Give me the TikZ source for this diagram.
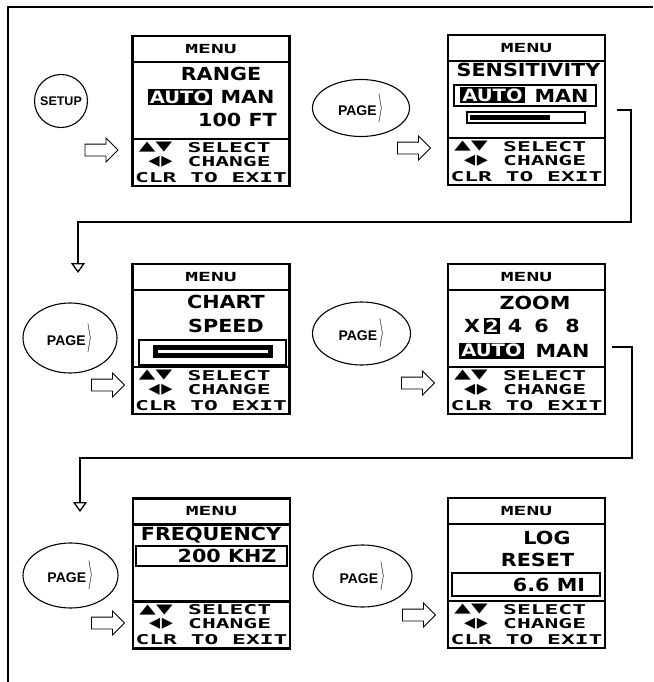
\documentclass[tikz,border=0pt]{standalone}
\usepackage{fontspec}
\usepackage{graphicx}
\setmainfont{Liberation Sans}
\newfontfamily\lcdbig[FakeStretch=1.15]{DejaVu Sans}
\newfontfamily\lcdsmall[FakeStretch=1.7]{DejaVu Sans Mono}
\newfontfamily\lcdsym{DejaVu Sans}
\usepackage{tikz}
\usetikzlibrary{arrows.meta,shapes.geometric,shapes.arrows}

\begin{document}
\begin{tikzpicture}[x=1pt,y=-1pt,
  scr/.style={draw,line width=2.6pt,minimum width=157pt,minimum height=150pt,inner sep=0pt,outer sep=0pt},
  div/.style={line width=2.4pt},
  big/.style={font={\lcdbig\bfseries\fontsize{18pt}{18pt}\selectfont},inner sep=0pt},
  inv/.style={fill=black,text=white,font={\lcdbig\bfseries\fontsize{17pt}{17pt}\selectfont},inner xsep=2pt,inner ysep=0pt,minimum height=16pt},
  menu/.style={font={\lcdsmall\bfseries\fontsize{12.5pt}{12.5pt}\selectfont},inner sep=0pt},
  foot/.style={font={\lcdsmall\bfseries\fontsize{13.5pt}{13.5pt}\selectfont},inner sep=0pt},
  sym/.style={font={\lcdsym\fontsize{12pt}{12pt}\selectfont},inner sep=0pt},
  lcdbox/.style={line width=1.6pt},
  btn/.style={draw,line width=1.1pt,font={\bfseries\fontsize{14pt}{14pt}\selectfont},inner sep=0pt},
  harrow/.style={single arrow,draw,line width=0.9pt,inner sep=5.5pt,single arrow head extend=6pt,single arrow head indent=0pt,minimum height=33pt},
  link/.style={line width=1.8pt,-{Triangle[open,length=10pt,width=14pt,line width=1.3pt]}}]
\useasboundingbox (0,0) rectangle (653,682);
\draw[line width=1.3pt] (8,682) -- (8,7) -- (653,7);

% screens
\node[scr] (scr1) at (211,111)     {};
\node[scr] (scr2) at (526.5,110)   {};
\node[scr] (scr3) at (211,339)     {};
\node[scr] (scr4) at (526.5,339)   {};
\node[scr] (scr5) at (211.5,573.5) {};
\node[scr] (scr6) at (526.5,573)   {};
\foreach \s in {scr1,scr2,scr3,scr4,scr5,scr6} {
  \draw[div] ([yshift=-26pt]\s.north west) -- ([yshift=-26pt]\s.north east);
  \draw[div] ([yshift=47pt]\s.south west) -- ([yshift=47pt]\s.south east);
  \node[menu] (\s-menu) at ([yshift=-13pt]\s.north) {MENU};
  \node[sym] (\s-ud) at ([xshift=23pt,yshift=38.5pt]\s.south west) {\scalebox{1.8}[1.1]{▲▼}};
  \node[foot,anchor=west] (\s-sel) at ([xshift=55pt,yshift=38.5pt]\s.south west) {SELECT};
  \node[sym] (\s-lr) at ([xshift=28pt,yshift=24.5pt]\s.south west) {\scalebox{1.2}{◀\kern1.5pt▶}};
  \node[foot,anchor=west] (\s-chg) at ([xshift=55pt,yshift=24.5pt]\s.south west) {CHANGE};
  \node[foot] (\s-clr) at ([yshift=8.5pt]\s.south) {CLR TO EXIT};
}

% range
\node[big] (rng)  at (221,74)    {RANGE};
\node[inv] (rngauto) at (180,97) {AUTO};
\node[big] (rngman) at (247.5,97) {MAN};
\node[big] (rngft) at (237.5,120) {100 FT};

% sensitivity
\node[big] (sens) at (528.5,70) {SENSITIVITY};
\draw[lcdbox] (454,85) rectangle (596,106);
\node[inv] (sensauto) at (492.5,95.5) {AUTO};
\node[big] (sensman) at (561.5,95.5) {MAN};
\draw[line width=1.2pt] (467,112) rectangle (585,123);
\fill (470,115) rectangle (550,120.5);

% chart speed
\node[big] (chart) at (226,302) {CHART};
\node[big] (speed) at (226,326) {SPEED};
\draw[lcdbox] (139,340) rectangle (286,365);
\draw[line width=5pt] (155.5,347.5) rectangle (270.5,355.5);

% zoom
\node[big] (zoom) at (535,303) {ZOOM};
\node[big] (zx) at (472,326) {X};
\node[inv,inner xsep=1.5pt] (z2) at (492,326) {2};
\node[big] (z4) at (515,326) {4};
\node[big] (z6) at (541.5,326) {6};
\node[big] (z8) at (572.5,326) {8};
\node[inv] (zauto) at (491.5,350.5) {AUTO};
\node[big] (zman) at (562.5,350.5) {MAN};

% frequency
\node[big] (freq) at (211,535) {FREQUENCY};
\draw[lcdbox] (136,546) rectangle (287,566);
\node[big] (khz) at (227,556) {200 KHZ};

% log reset
\node[big] (log) at (547,538) {LOG};
\node[big] (reset) at (537.5,559.5) {RESET};
\draw[lcdbox] (452,573) rectangle (600,596);
\node[big] (mi) at (549,584.5) {6.6 MI};

% keys
\node[btn,circle,minimum size=53pt,font={\bfseries\fontsize{12.5pt}{12.5pt}\selectfont}] (setup) at (61,101) {SETUP};
\node[btn,ellipse,minimum width=97pt,minimum height=57pt] (pg1) at (361,108)   {PAGE\,\scalebox{0.9}[2]{$\rangle$}};
\node[btn,ellipse,minimum width=94pt,minimum height=70pt] (pg2) at (70,338)    {PAGE\,\scalebox{0.9}[2]{$\rangle$}};
\node[btn,ellipse,minimum width=98pt,minimum height=63pt] (pg3) at (361.5,333.5) {PAGE\,\scalebox{0.9}[2]{$\rangle$}};
\node[btn,ellipse,minimum width=95pt,minimum height=65pt] (pg4) at (70.5,575.5) {PAGE\,\scalebox{0.9}[2]{$\rangle$}};
\node[btn,ellipse,minimum width=99pt,minimum height=62pt] (pg5) at (362.5,576) {PAGE\,\scalebox{0.9}[2]{$\rangle$}};

\node[harrow] (h1) at (98.5,150) {};
\node[harrow] (h2) at (411,148)  {};
\node[harrow] (h3) at (105,385)  {};
\node[harrow] (h4) at (415,383)  {};
\node[harrow] (h5) at (105,623)  {};
\node[harrow] (h6) at (416,615)  {};

% links to next row
\coordinate (t1) at (78,273);
\coordinate (t2) at (80,512);
\draw[link] ([xshift=12pt]scr2.east) -| (631,222) -| (t1);
\draw[link] ([xshift=7pt,yshift=-8pt]scr4.east) -| (632,458) -| (t2);
\end{tikzpicture}
\end{document}
